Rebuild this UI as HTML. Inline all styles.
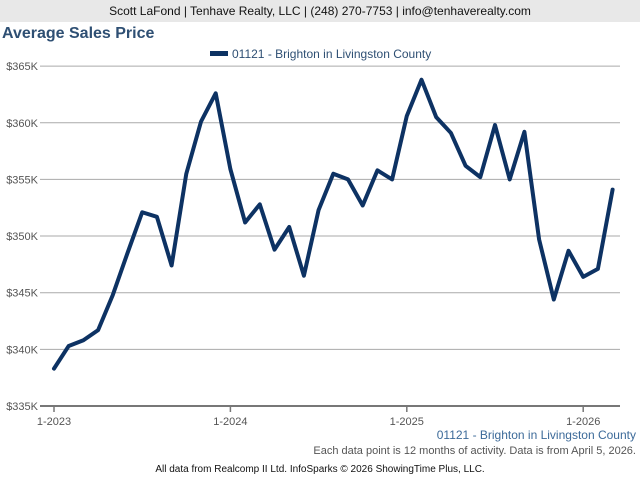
<!DOCTYPE html>
<html><head><meta charset="utf-8"><style>
body{margin:0;width:640px;height:480px;background:#fff;font-family:"Liberation Sans",Arial,sans-serif;overflow:hidden;position:relative}
.hdr{position:absolute;left:0;top:0;width:640px;height:22px;background:#e8e8e8;font-size:12px;line-height:22px;text-align:center;color:#111}
.title{position:absolute;left:2px;top:25px;font-size:16px;font-weight:bold;color:#2e4f73}
.t{position:absolute;white-space:nowrap}
</style></head><body>
<div class="hdr">Scott LaFond | Tenhave Realty, LLC | (248) 270-7753 | info@tenhaverealty.com</div>
<div class="title">Average Sales Price</div>
<svg id="c" width="640" height="480" style="position:absolute;left:0;top:0"></svg>
<div class="t" style="right:4px;top:428px;font-size:12px;color:#3c6a99">01121 - Brighton in Livingston County</div>
<div class="t" style="right:4px;top:445px;font-size:11px;color:#555">Each data point is 12 months of activity. Data is from April 5, 2026.</div>
<div class="t" style="left:0;width:640px;text-align:center;top:464px;font-size:10px;color:#111">All data from Realcomp II Ltd. InfoSparks © 2026 ShowingTime Plus, LLC.</div>
<script>
const values=[338.3,340.3,340.8,341.7,344.8,348.5,352.1,351.7,347.4,355.5,360.1,362.6,355.9,351.2,352.8,348.8,350.8,346.5,352.3,355.5,355.0,352.7,355.8,355.0,360.6,363.8,360.5,359.1,356.2,355.2,359.8,355.0,359.2,349.7,344.4,348.7,346.4,347.1,354.1];
const yTicks=[335,340,345,350,355,360,365];
const xTickIdx=[0,12,24,36];
const xTickLabels=["1-2023","1-2024","1-2025","1-2026"];
const NS="http://www.w3.org/2000/svg",svg=document.getElementById('c');
const X=i=>54+i*14.7, Y=v=>406-(v-335)*11.33;
function mk(t,a){const e=document.createElementNS(NS,t);for(const k in a)e.setAttribute(k,a[k]);svg.appendChild(e);return e;}
yTicks.forEach(v=>{
 const l=mk('line',{x1:40,x2:620,y1:Y(v),y2:Y(v),stroke:v===335?'#777':'#aaa','stroke-width':v===335?2:1});
 
 
 const t=mk('text',{x:38,y:Y(v)+4,'text-anchor':'end','font-size':11,fill:'#555','font-family':'Liberation Sans, sans-serif'});
 t.textContent='$'+v+'K';
 
 
});
xTickIdx.forEach((i,k)=>{
 const l=mk('line',{x1:X(i),x2:X(i),y1:406,y2:412,stroke:'#777','stroke-width':1.5});
 
 
 const t=mk('text',{x:X(i),y:425,'text-anchor':'middle','font-size':11,fill:'#555','font-family':'Liberation Sans, sans-serif'});
 t.textContent=xTickLabels[k];
 
 
});
const p=mk('polyline',{points:values.map((v,i)=>X(i)+','+Y(v)).join(' '),fill:'none',stroke:'#0d3263','stroke-width':4,'stroke-linejoin':'round','stroke-linecap':'round'});


const lg=mk('rect',{x:210,y:51,width:18,height:5,fill:'#0d3263'});


const lt=mk('text',{x:232,y:58,'font-size':12,fill:'#2e4f73','font-family':'Liberation Sans, sans-serif'});
lt.textContent='01121 - Brighton in Livingston County';


</script>
</body></html>
